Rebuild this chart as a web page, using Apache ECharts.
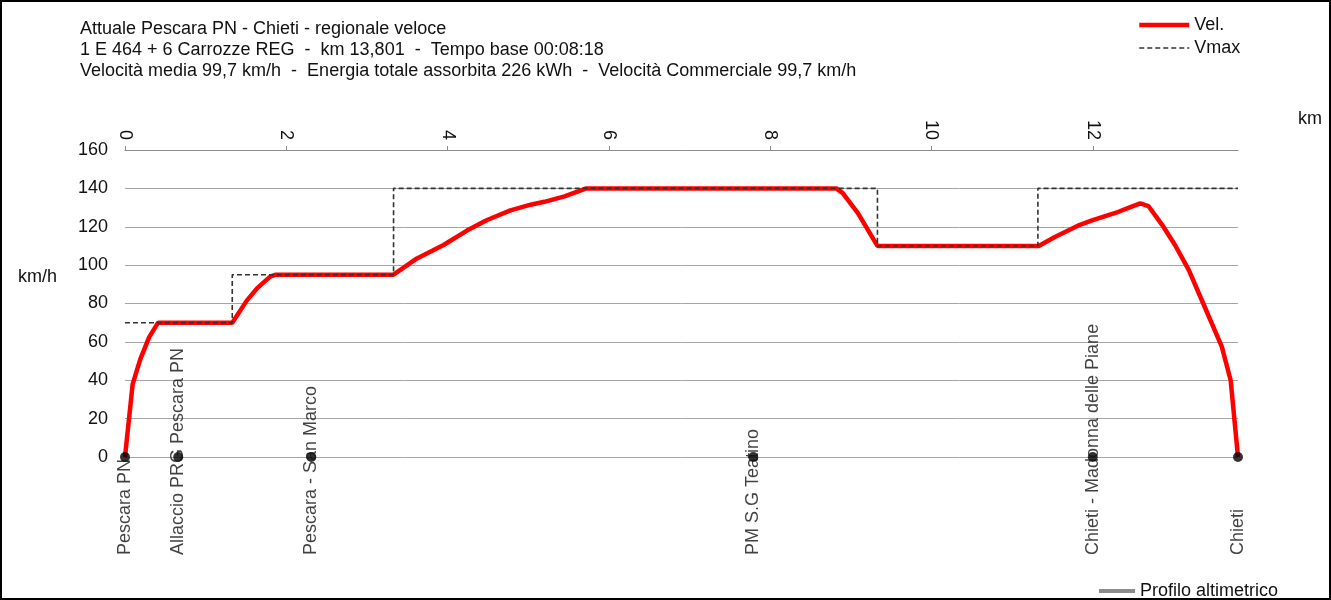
<!DOCTYPE html>
<html>
<head>
<meta charset="utf-8">
<script src="https://cdn.jsdelivr.net/npm/echarts@6/dist/echarts.min.js"></script>
<style>
html,body{margin:0;padding:0;background:#fff;}
#frame{position:absolute;left:0;top:0;width:1331px;height:600px;box-sizing:border-box;border:2px solid #000;}
#chart{position:absolute;left:0;top:0;width:1331px;height:600px;}
</style>
</head>
<body>
<div id="chart"></div>
<div id="frame"></div>
<script>
// ---- data ----
const titleLines = [
  "Attuale Pescara PN - Chieti - regionale veloce",
  "1 E 464 + 6 Carrozze REG  -  km 13,801  -  Tempo base 00:08:18",
  "Velocità media 99,7 km/h  -  Energia totale assorbita 226 kWh  -  Velocità Commerciale 99,7 km/h"
];
const velKm  = [0, 0.095, 0.19, 0.30, 0.41, 1.33, 1.51, 1.64, 1.80, 1.87, 3.33, 3.62, 3.95, 4.24, 4.49, 4.78, 5.03, 5.20, 5.45, 5.72, 8.82, 8.90, 9.09, 9.33, 11.33, 11.53, 11.84, 12.0, 12.32, 12.45, 12.59, 12.69, 12.86, 13.02, 13.19, 13.37, 13.60, 13.71, 13.801];
const velVal = [0, 38, 51, 62.5, 70, 70, 81.5, 88, 94, 95, 95, 103.5, 110.5, 118, 123.5, 128.5, 131.5, 133, 135.8, 140, 140, 137.5, 127, 110, 110, 114.7, 121, 123.5, 127.8, 130, 132.2, 130.8, 121, 110.5, 97.5, 80, 57.5, 40, 0];
const vmaxKm  = [0, 1.33, 3.33, 9.33, 11.32, 13.801];
const vmaxVal = [70, 95, 140, 110, 140, 140];
const stationNames = ["Pescara PN", "Allaccio PRG Pescara PN", "Pescara - San Marco", "PM S.G Teatino", "Chieti - Madonna delle Piane", "Chieti"];
const stationKm = [0, 0.66, 2.31, 7.79, 12.0, 13.801];
const xTicks = [0, 2, 4, 6, 8, 10, 12];
const kmMax = 13.801;

const FONT = "Liberation Sans, Arial, sans-serif";
const FS = 18;
const TXT = "#111111";

const chart = echarts.init(document.getElementById('chart'), null, {renderer: 'canvas'});
chart.setOption({
  animation: false,
  backgroundColor: '#fff',
  textStyle: {fontFamily: FONT},
  grid: {left: 125, right: 93, top: 150, bottom: 143},
  graphic: [
    {type: 'text', left: 80, top: 19, style: {text: titleLines.join('\n'), font: FS + 'px ' + FONT, fill: TXT, lineHeight: 20.7}},
    {type: 'text', left: 18, top: 268, style: {text: 'km/h', font: FS + 'px ' + FONT, fill: TXT}},
    {type: 'text', left: 1298, top: 110, style: {text: 'km', font: FS + 'px ' + FONT, fill: TXT}}
  ],
  legend: [
    {
      orient: 'vertical', left: 1132, top: 11, itemWidth: 50, itemHeight: 14, itemGap: 5,
      data: [
        {name: 'Vel.', lineStyle: {width: 4.5, color: '#ff0000'}},
        {name: 'Vmax', lineStyle: {width: 1.6, color: '#333333', type: [5, 3]}}
      ],
      itemStyle: {opacity: 0},
      textStyle: {fontSize: FS, color: TXT, fontFamily: FONT}
    },
    {
      orient: 'horizontal', left: 1092, top: 577, itemWidth: 36, itemHeight: 14,
      data: [{name: 'Profilo altimetrico', lineStyle: {width: 4, color: '#8c8c8c'}}],
      itemStyle: {opacity: 0},
      textStyle: {fontSize: FS, color: TXT, fontFamily: FONT}
    }
  ],
  xAxis: {
    type: 'value', position: 'top', min: 0, max: kmMax, interval: 2,
    axisLine: {show: true, onZero: false, lineStyle: {color: '#8c8c8c', width: 1}},
    axisTick: {show: true, length: 4, lineStyle: {color: '#8c8c8c'}, customValues: xTicks},
    axisLabel: {show: true, rotate: 90, margin: 10, fontSize: FS, color: TXT, fontFamily: FONT, customValues: xTicks},
    splitLine: {show: false}
  },
  yAxis: {
    type: 'value', min: 0, max: 160, interval: 20,
    axisLine: {show: false}, axisTick: {show: false},
    axisLabel: {fontSize: FS, color: TXT, fontFamily: FONT, margin: 17},
    splitLine: {show: true, lineStyle: {color: '#a6a6a6', width: 1}}
  },
  series: [
    {
      name: 'Profilo altimetrico', type: 'line', data: [], symbol: 'none',
      lineStyle: {color: '#8c8c8c', width: 4}, itemStyle: {color: '#8c8c8c'}
    },
    {
      name: 'Vel.', type: 'line', symbol: 'none', z: 2,
      data: velKm.map((k, i) => [k, velVal[i]]),
      lineStyle: {color: '#ff0000', width: 4.5}, itemStyle: {color: '#ff0000'}
    },
    {
      name: 'Vmax', type: 'line', step: 'end', symbol: 'none', z: 4,
      data: vmaxKm.map((k, i) => [k, vmaxVal[i]]),
      lineStyle: {color: '#333333', width: 1.6, type: [5, 3]}, itemStyle: {color: '#333333'}
    },
    {
      name: 'Stazioni', type: 'scatter', symbolSize: 10, z: 5,
      itemStyle: {color: '#000'},
      data: stationNames.map((n, i) => ({name: n, value: [stationKm[i], 0]})),
      label: {
        show: true, formatter: '{b}', rotate: 90, position: [5, 103],
        align: 'left', verticalAlign: 'middle',
        fontSize: FS, color: TXT, fontFamily: FONT
      }
    }
  ]
});
</script>
</body>
</html>
